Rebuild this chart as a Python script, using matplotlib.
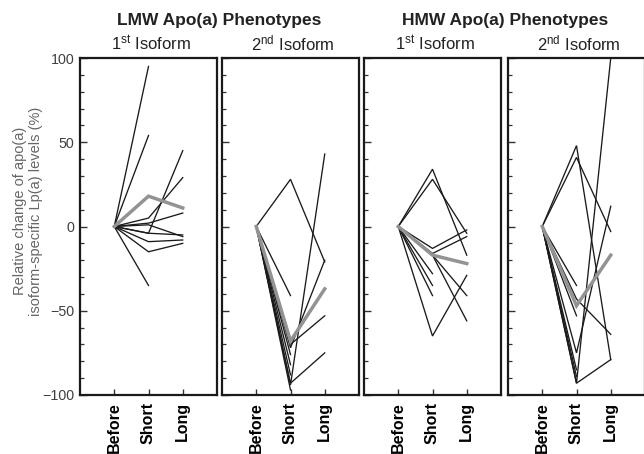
import numpy as np
import matplotlib
matplotlib.use("Agg")
import matplotlib.pyplot as plt
from matplotlib.ticker import MultipleLocator

plt.rcParams['font.family'] = ['Liberation Sans', 'DejaVu Sans']
plt.rcParams['mathtext.fontset'] = 'custom'
plt.rcParams['mathtext.rm'] = 'Liberation Sans'
plt.rcParams['mathtext.it'] = 'Liberation Sans:italic'
plt.rcParams['mathtext.bf'] = 'Liberation Sans:bold'

nan = np.nan
timepoints = ["Before", "Short", "Long"]
panel_titles = ["1$^{\\mathrm{st}}$ Isoform", "2$^{\\mathrm{nd}}$ Isoform",
                "1$^{\\mathrm{st}}$ Isoform", "2$^{\\mathrm{nd}}$ Isoform"]
group_titles = ["LMW Apo(a) Phenotypes", "HMW Apo(a) Phenotypes"]

# individual patients: (Before, Short, Long) relative change in %
lmw_1st = [
    [0, 95, nan], [0, 54, nan], [0, -35, nan], [0, 5, 29], [0, -4, 45],
    [0, 2, 8], [0, -4, -5], [0, -9, -8], [0, -15, -10], [0, 1, -6],
]
lmw_1st_mean = [0, 18, 11]

lmw_2nd = [
    [0, 28, -21], [0, -41, nan], [0, -70, -53], [0, -72, -20], [0, -94, 43],
    [0, -93, -75], [0, -76, nan], [0, -82, nan], [0, -88, nan], [0, -97, nan],
]
lmw_2nd_mean = [0, -68, -37]

hmw_1st = [
    [0, 34, -17], [0, 28, -4], [0, -13, -2], [0, -16, -6], [0, -17, -41],
    [0, -17, -56], [0, -65, -29], [0, -28, nan], [0, -35, nan], [0, -41, nan],
]
hmw_1st_mean = [0, -17, -22]

hmw_2nd = [
    [0, 48, -79], [0, 41, -3], [0, -93, 100], [0, -93, -79], [0, -75, 12],
    [0, -43, -64], [0, -35, nan], [0, -53, nan], [0, -85, nan], [0, -89, nan],
]
hmw_2nd_mean = [0, -47, -17]

panels = [(lmw_1st, lmw_1st_mean), (lmw_2nd, lmw_2nd_mean),
          (hmw_1st, hmw_1st_mean), (hmw_2nd, hmw_2nd_mean)]

W, H = 644, 454
fig = plt.figure(figsize=(W / 100, H / 100), dpi=100)

lefts = [80, 222, 364, 508]
pw = 137
top, bottom = 58, 395
xs = np.arange(len(timepoints))

axes = []
for i, (lines, mean) in enumerate(panels):
    ax = fig.add_axes([lefts[i] / W, (H - bottom) / H, pw / W, (bottom - top) / H])
    axes.append(ax)
    for row in lines:
        ax.plot(xs, row, color='#1a1a1a', lw=0.95, solid_joinstyle='miter')
    ax.plot(xs, mean, color='#939393', lw=2.5, solid_joinstyle='miter')
    ax.set_xlim(-1, 3)
    ax.set_ylim(-100, 100)
    for s in ax.spines.values():
        s.set_linewidth(1.6)
        s.set_color('#1a1a1a')
    ax.yaxis.set_major_locator(MultipleLocator(50))
    ax.yaxis.set_minor_locator(MultipleLocator(10))
    ax.tick_params(axis='y', which='major', direction='in', length=5, width=1.0,
                   color='#333333', labelsize=10.3, labelcolor='#404040', pad=4)
    ax.tick_params(axis='y', which='minor', direction='in', length=3, width=0.9,
                   color='#333333')
    ax.set_xticks(xs)
    ax.set_xticklabels(timepoints, rotation=90, fontweight='bold', fontsize=11.5)
    ax.tick_params(axis='x', which='major', direction='in', length=4, width=1.0,
                   color='#333333', pad=5)
    if i > 0:
        ax.set_yticklabels([])
    cx = (lefts[i] + pw / 2 + 2) / W
    fig.text(cx, 1 - 43 / H, panel_titles[i], ha='center', va='center',
             fontsize=12, color='#222222')

fig.text(28 / W, 1 - 211 / H,
         "Relative change of apo(a)\nisoform-specific Lp(a) levels (%)",
         rotation=90, ha='center', va='center', fontsize=10.5,
         color='#666666', linespacing=1.2)

fig.text(219 / W, 1 - 20 / H, group_titles[0], ha='center', va='center',
         fontsize=12.5, fontweight='bold', color='#222222')
fig.text(505 / W, 1 - 20 / H, group_titles[1], ha='center', va='center',
         fontsize=12.5, fontweight='bold', color='#222222')

fig.savefig("out.png", dpi=100)
